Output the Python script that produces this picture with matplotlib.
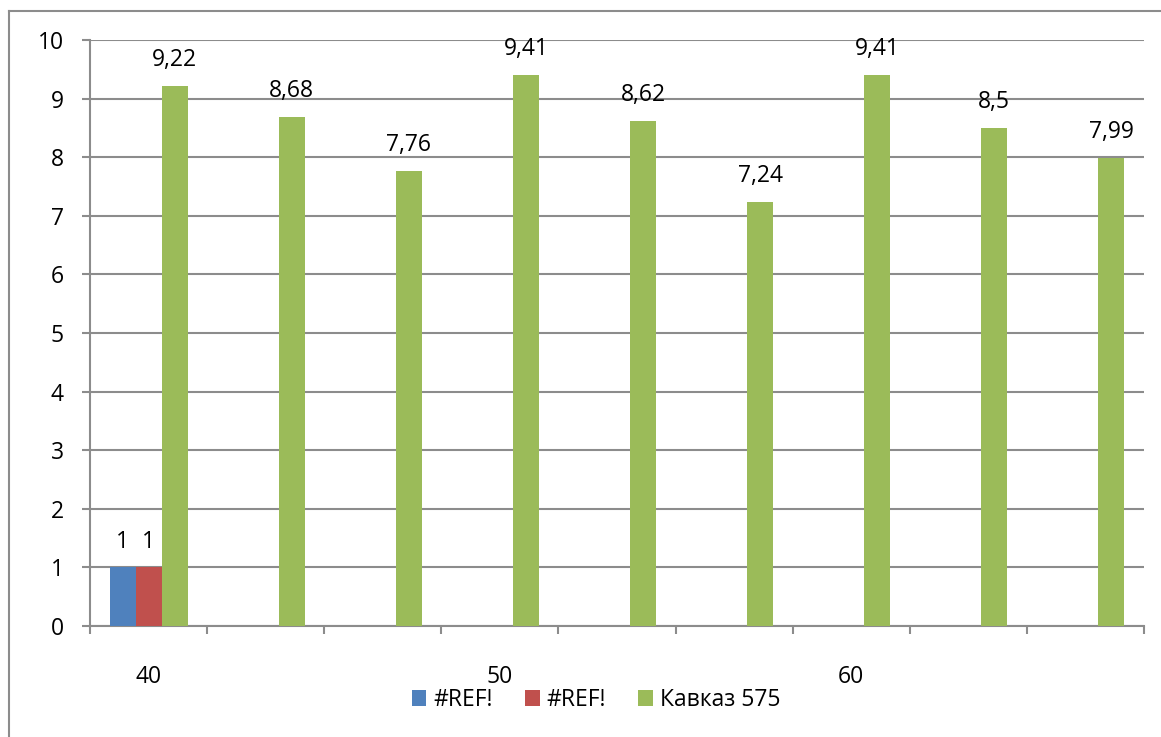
import numpy as np
import matplotlib
matplotlib.use('Agg')
import matplotlib.pyplot as plt
from matplotlib.lines import Line2D
from matplotlib.patches import Patch

plt.rcParams['font.family'] = ['Open Sans', 'DejaVu Sans']

categories = ['40', '', '', '50', '', '', '60', '', '']
series_names = ['#REF!', '#REF!', 'Кавказ 575']
ref1 = [1, np.nan, np.nan, np.nan, np.nan, np.nan, np.nan, np.nan, np.nan]
ref2 = [1, np.nan, np.nan, np.nan, np.nan, np.nan, np.nan, np.nan, np.nan]
kavkaz = [9.22, 8.68, 7.76, 9.41, 8.62, 7.24, 9.41, 8.5, 7.99]
colors = ['#4F81BD', '#C0504D', '#9BBB59']
grid_col = '#8C8C8C'
fs = 16.5

W, H = 1161, 737
fig = plt.figure(figsize=(W / 100, H / 100), dpi=100)
ax = fig.add_axes([90 / W, (H - 626) / H, 1054 / W, 586 / H])

x = np.arange(len(categories))
bw = 1 / 4.5
for k, (vals, col) in enumerate(zip([ref1, ref2, kavkaz], colors)):
    pos = x + (k - 1) * bw
    ax.bar(pos, vals, width=bw, color=col, zorder=3)
    for p, v in zip(pos, vals):
        if np.isnan(v):
            continue
        ax.annotate(f'{v:g}'.replace('.', ','), (p, v), xytext=(0, 10),
                    textcoords='offset points', ha='center', va='bottom',
                    fontsize=fs, color='black')

ax.set_xlim(-0.5, len(categories) - 0.5)
ax.set_ylim(0, 10)
ax.set_yticks(range(0, 11))
ax.yaxis.grid(True, color=grid_col, linewidth=1.5, zorder=0)
ax.set_axisbelow(True)

ax.set_xticks(x)
ax.set_xticklabels(categories)
ax.set_xticks(np.arange(-0.5, len(categories)), minor=True)
ax.tick_params(axis='x', which='major', length=0, pad=28, labelsize=fs)
ax.tick_params(axis='x', which='minor', length=6, width=1.5, color=grid_col)
ax.tick_params(axis='y', length=6, width=1.5, color=grid_col, pad=13, labelsize=fs)

for s in ['top', 'right']:
    ax.spines[s].set_visible(False)
for s in ['left', 'bottom']:
    ax.spines[s].set_color(grid_col)
    ax.spines[s].set_linewidth(1.5)

# chart area border (right/bottom clipped off)
fig.add_artist(Line2D([9 / W, 1], [1 - 11 / H, 1 - 11 / H], color='#8C8C8C', lw=1.5))
fig.add_artist(Line2D([9 / W, 9 / W], [0, 1 - 11 / H], color='#8C8C8C', lw=1.5))

handles = [Patch(facecolor=c, edgecolor='none') for c in colors]
fig.legend(handles, series_names, loc='center', bbox_to_anchor=(596 / W, 1 - 700 / H),
           ncol=3, frameon=False, fontsize=fs, handlelength=0.65, handleheight=0.65,
           handletextpad=0.3, columnspacing=1.4)

fig.savefig('out.png', dpi=100)
